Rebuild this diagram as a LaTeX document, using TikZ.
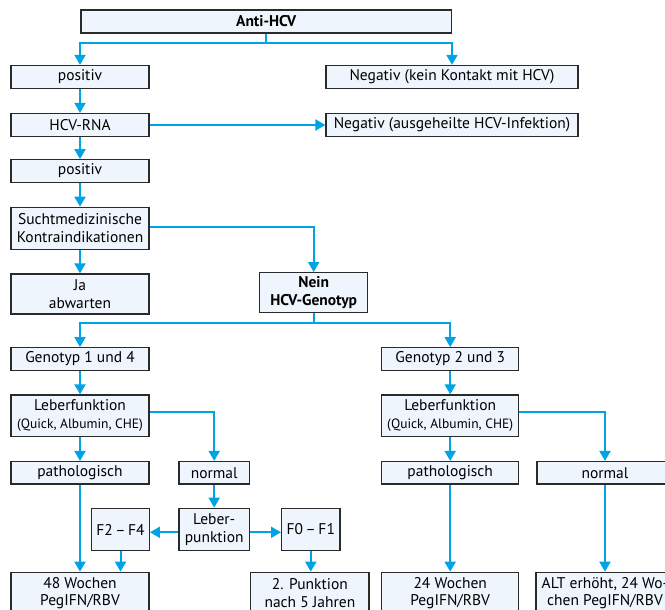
\documentclass[tikz,border=0pt]{standalone}
\usepackage{fontspec}
\setmainfont{PT Sans}
\usetikzlibrary{arrows.meta}
\definecolor{lc}{HTML}{00A3E4}
\definecolor{bf}{HTML}{EEF5FC}
\definecolor{bd}{HTML}{2A2A2A}
\begin{document}
\begin{tikzpicture}[x=1pt,y=-1pt,
 box/.style={draw=bd, fill=bf, line width=1.3pt, inner sep=0pt, align=center, font=\fontsize{15.5}{17.5}\selectfont},
 conn/.style={draw=lc, line width=2pt, -{Triangle[length=10pt,width=11pt]}},
]
\useasboundingbox (0,0) rectangle (665,610);
\clip (0,0) rectangle (665,610);
\node[box, minimum width=370.5pt, minimum height=23pt] (anti) at (266.25,21.5) {\textbf{Anti-HCV}};
\node[box, minimum width=138pt, minimum height=23pt] (pos1) at (80,77) {positiv};
\node[box, minimum width=252pt, minimum height=23pt] (neg1) at (452,77) {Negativ (kein Kontakt mit HCV)};
\node[box, minimum width=138pt, minimum height=23pt] (rna) at (80,125) {HCV-RNA};
\node[box, minimum width=252pt, minimum height=23pt] (neg2) at (452,125) {Negativ (ausgeheilte HCV-Infektion)};
\node[box, minimum width=138pt, minimum height=22.5pt] (pos2) at (80,171) {positiv};
\node[box, minimum width=138pt, minimum height=42pt] (sucht) at (80,228.3) {Suchtmedizinische\\Kontraindikationen};
\node[box, minimum width=138pt, minimum height=40pt] (ja) at (80,294) {Ja\\abwarten};
\node[box, minimum width=108pt, minimum height=40pt] (nein) at (313.7,292.7) {\textbf{Nein}\\\textbf{HCV-Genotyp}};
\node[box, minimum width=138pt, minimum height=22.5pt] (g14) at (80,359) {Genotyp 1 und 4};
\node[box, minimum width=137pt, minimum height=22.5pt] (g23) at (450.2,359) {Genotyp 2 und 3};
\node[box, minimum width=138pt, minimum height=41.5pt] (leb1) at (80,415.7) {Leberfunktion\\{\fontsize{13.5}{16}\selectfont (Quick, Albumin, CHE)}};
\node[box, minimum width=137pt, minimum height=41.5pt] (leb2) at (450.2,415.7) {Leberfunktion\\{\fontsize{13.5}{16}\selectfont (Quick, Albumin, CHE)}};
\node[box, minimum width=138pt, minimum height=22.5pt] (path1) at (80,472.8) {pathologisch};
\node[box, minimum width=70.3pt, minimum height=22.5pt] (norm1) at (214.2,472.8) {normal};
\node[box, minimum width=137pt, minimum height=22.5pt] (path2) at (450.2,472.8) {pathologisch};
\node[box, minimum width=136pt, minimum height=22.5pt] (norm2) at (605,472.8) {normal};
\node[box, minimum width=70.3pt, minimum height=42.4pt] (lp) at (214.2,529.5) {Leber-\\punktion};
\node[box, minimum width=57.6pt, minimum height=42.4pt] (f24) at (120.5,529.5) {F2\,–\,F4};
\node[box, minimum width=58.3pt, minimum height=42.4pt] (f01) at (310.8,529.5) {F0\,–\,F1};
\node[box, minimum width=138pt, minimum height=42pt] (w48) at (80,593.3) {48 Wochen\\PegIFN/RBV};
\node[box, minimum width=118.3pt, minimum height=42pt] (p2) at (309.9,593.3) {2. Punktion\\nach 5 Jahren};
\node[box, minimum width=137pt, minimum height=42pt] (w24) at (450.2,593.3) {24 Wochen\\PegIFN/RBV};
\node[box, minimum width=138pt, minimum height=42pt] (alt) at (605,593.3) {ALT erhöht, 24 Wo-\\chen PegIFN/RBV};
% connectors
\draw[conn] (anti.south) -- ++(0,9) -| (pos1.north);
\draw[conn] (anti.south) -- ++(0,9) -| (neg1.north);
\draw[conn] (pos1) -- (rna);
\draw[conn] (rna) -- (neg2);
\draw[conn] (rna) -- (pos2);
\draw[conn] (pos2) -- (sucht);
\draw[conn] (sucht) -- (ja);
\draw[conn] ([yshift=1.5pt]sucht.east) -| (nein.north);
\draw[conn] (nein.south) -- ++(0,10) -| (g14.north);
\draw[conn] (nein.south) -- ++(0,10) -| (g23.north);
\draw[conn] (g14) -- (leb1);
\draw[conn] (g23) -- (leb2);
\draw[conn] (leb1) -- (path1);
\draw[conn] (leb2) -- (path2);
\draw[conn] ([yshift=4pt]leb1.east) -| (norm1.north);
\draw[conn] ([yshift=4pt]leb2.east) -| (norm2.north);
\draw[conn] (norm1) -- (lp);
\draw[conn] ([yshift=-2.8pt]lp.west) -- ([yshift=-2.8pt]f24.east);
\draw[conn] ([yshift=-2.8pt]lp.east) -- ([yshift=-2.8pt]f01.west);
\draw[conn] (path1.south) -- (path1.south |- w48.north);
\draw[conn] (f24.south) -- (f24.south |- w48.north);
\draw[conn] (f01.south) -- (f01.south |- p2.north);
\draw[conn] (path2.south) -- (path2.south |- w24.north);
\draw[conn] (norm2.south) -- (norm2.south |- alt.north);
\end{tikzpicture}
\end{document}
